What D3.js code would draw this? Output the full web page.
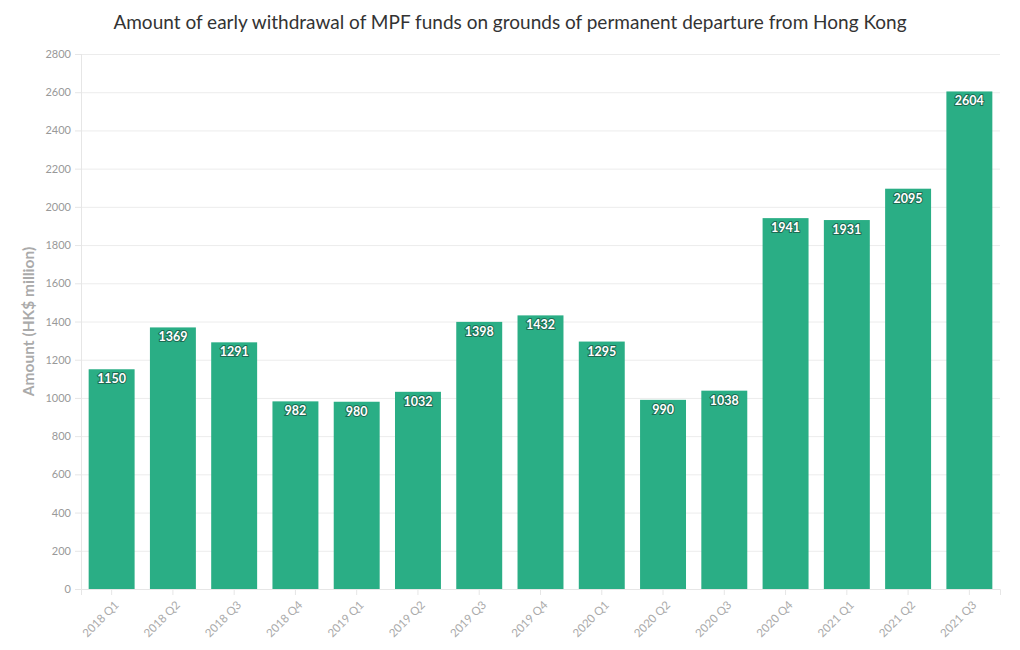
<!DOCTYPE html>
<html><head><meta charset="utf-8">
<script src="https://cdn.jsdelivr.net/npm/d3@7"></script>
<style>body{margin:0;background:#fff;font-family:"Source Sans Pro","Lato","Open Sans",sans-serif;}</style>
</head><body><svg id="c" width="1020" height="650"></svg>
<script>
const categories = ["2018 Q1","2018 Q2","2018 Q3","2018 Q4","2019 Q1","2019 Q2","2019 Q3","2019 Q4","2020 Q1","2020 Q2","2020 Q3","2020 Q4","2021 Q1","2021 Q2","2021 Q3"];
const values = [1150,1369,1291,982,980,1032,1398,1432,1295,990,1038,1941,1931,2095,2604];
const yTicks = [0,200,400,600,800,1000,1200,1400,1600,1800,2000,2200,2400,2600,2800];
const title = "Amount of early withdrawal of MPF funds on grounds of permanent departure from Hong Kong";
const yTitle = "Amount (HK$ million)";

const svg = d3.select("#c");
const m = {l:81, r:1000, t:54, b:589};
const x = d3.scaleBand().domain(categories).range([m.l, m.r]).paddingInner(0.25).paddingOuter(0.125);
const y = d3.scaleLinear().domain([0,2800]).range([m.b, m.t]);
const font = '"Lato","Open Sans",sans-serif';

svg.append("text").attr("x",510).attr("y",29).attr("text-anchor","middle")
  .attr("font-family",font).attr("font-size",19).attr("fill","#333").text(title);

// grid
svg.append("g").selectAll("line").data(yTicks).join("line")
  .attr("x1",m.l).attr("x2",m.r).attr("y1",d=>y(d)+0.5).attr("y2",d=>y(d)+0.5)
  .attr("stroke","#ececec");
svg.append("line").attr("x1",m.l+0.5).attr("x2",m.l+0.5).attr("y1",m.t).attr("y2",m.b).attr("stroke","#e6e6e6");

const ya = svg.append("g").attr("transform",`translate(${m.l},0)`)
  .call(d3.axisLeft(y).tickValues(yTicks).tickFormat(d3.format("d")).tickSize(6).tickPadding(4));
ya.select(".domain").remove();
ya.selectAll("line").attr("stroke","#e6e6e6");
ya.selectAll("text").attr("font-family",font).attr("font-size",11).attr("fill","#999");

const xa = svg.append("g").attr("transform",`translate(0,${m.b})`)
  .call(d3.axisBottom(x).tickSize(6).tickPadding(4));
xa.select(".domain").attr("stroke","#e6e6e6");
xa.selectAll("line").attr("stroke","#e6e6e6");
xa.selectAll("text").attr("font-family",font).attr("font-size",11.5).attr("fill","#aaa")
  .attr("text-anchor","end").attr("x",0).attr("y",0).attr("dy","0.35em")
  .attr("transform","translate(5,14) rotate(-45)");

svg.append("text").attr("transform",`translate(34,${(m.t+m.b)/2}) rotate(-90)`)
  .attr("text-anchor","middle").attr("font-family",font).attr("font-weight","bold")
  .attr("font-size",15.5).attr("fill","#aaa").text(yTitle);

const data = categories.map((c,i)=>({c, v:values[i]}));
svg.append("g").selectAll("rect").data(data).join("rect")
  .attr("x",d=>x(d.c)).attr("width",x.bandwidth())
  .attr("y",d=>y(d.v)).attr("height",d=>m.b-y(d.v))
  .attr("fill","#2aae85");

svg.append("g").selectAll("text").data(data).join("text")
  .attr("x",d=>x(d.c)+x.bandwidth()/2).attr("y",d=>y(d.v)+14)
  .attr("text-anchor","middle").attr("font-family",font).attr("font-weight","bold")
  .attr("font-size",12.5).attr("fill","#fff")
  .attr("stroke","#1d6b52").attr("stroke-width",2).attr("paint-order","stroke")
  .text(d=>d.v);
</script></body></html>
